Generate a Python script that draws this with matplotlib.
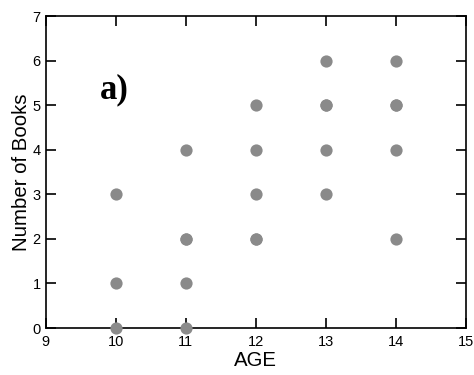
import matplotlib
matplotlib.use('Agg')
from matplotlib import pyplot as plt

# Ages and number of books read, one entry per child
age = [10, 10, 10, 11, 11, 11, 11, 11, 12, 12, 12, 12, 12, 13, 13, 13, 13, 13, 14, 14, 14, 14, 14]
books = [0, 1, 3, 0, 1, 2, 2, 4, 2, 2, 3, 4, 5, 3, 4, 5, 5, 6, 2, 4, 5, 5, 6]

x_ticks = [9, 10, 11, 12, 13, 14, 15]
y_ticks = [0, 1, 2, 3, 4, 5, 6, 7]

plt.rcParams['font.family'] = ['Liberation Sans', 'DejaVu Sans']

fig = plt.figure(figsize=(4.74, 3.75), dpi=100)
ax = fig.add_axes([0.0964, 0.1253, 0.8866, 0.8317])

ax.plot(age, books, 'o', color='#8a8a8a', markersize=8.8, markeredgewidth=0,
        clip_on=False, zorder=3)

ax.set_xlim(9, 15)
ax.set_ylim(0, 7)
ax.set_xticks(x_ticks)
ax.set_yticks(y_ticks)
ax.tick_params(direction='in', length=7, width=1.2, top=True, right=True,
               labelsize=10.5)
ax.tick_params(axis='x', pad=5)
ax.tick_params(axis='y', pad=3.5)
for side in ax.spines.values():
    side.set_linewidth(1.2)

ax.set_xlabel('AGE', fontsize=14.7, labelpad=1.5)
ax.set_ylabel('Number of Books', fontsize=14.7, labelpad=1)

ax.text(9.78, 5.15, 'a)', fontsize=25, fontweight='bold',
        family=['Liberation Serif', 'DejaVu Serif'])

fig.savefig('out.png', dpi=100)
